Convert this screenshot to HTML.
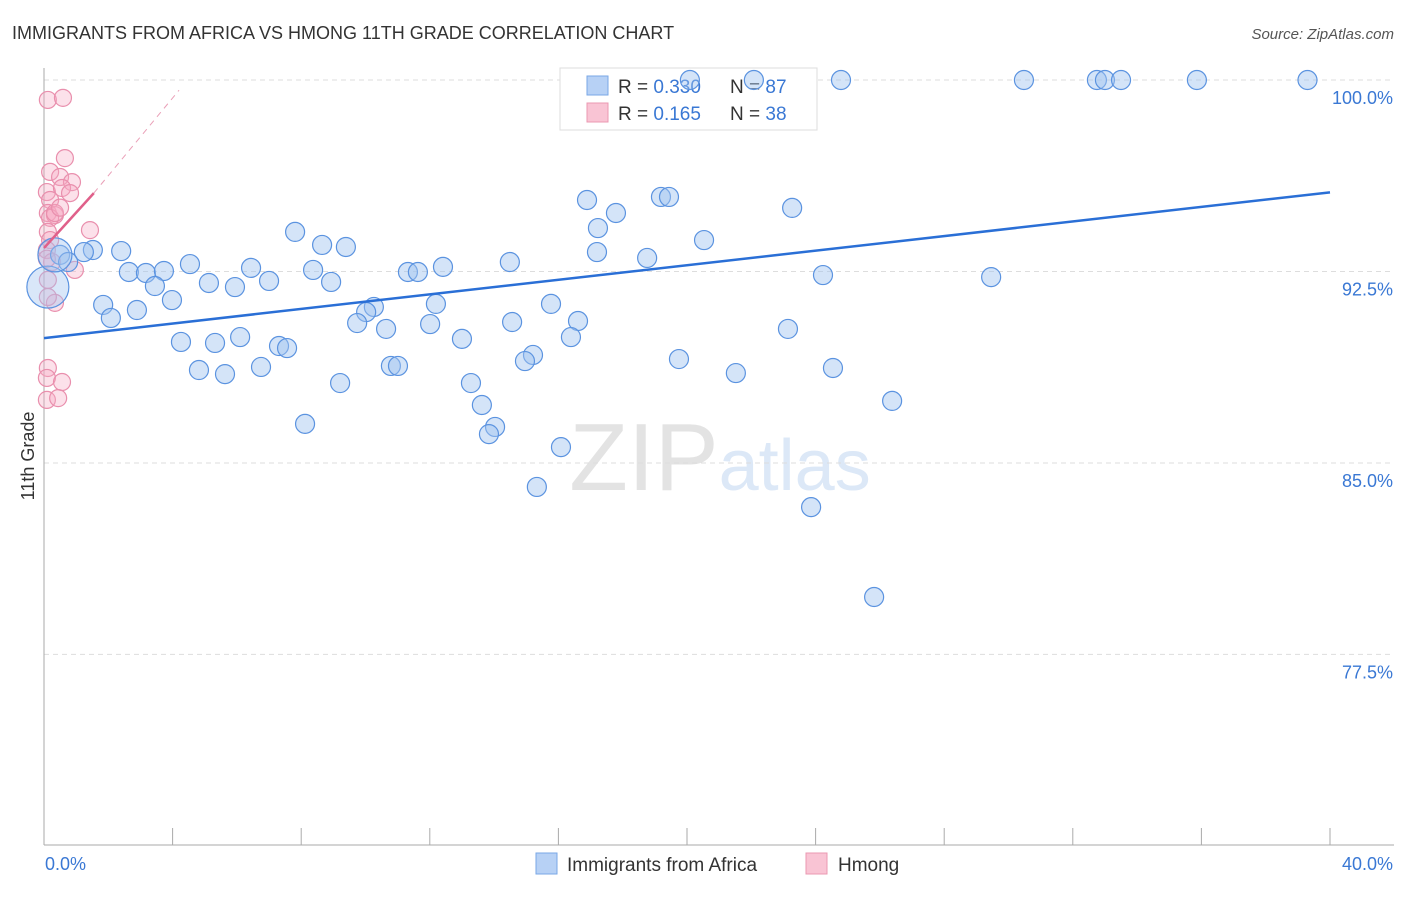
<!DOCTYPE html>
<html><head><meta charset="utf-8"><style>
body{margin:0;background:#fff;font-family:"Liberation Sans",sans-serif}
svg text{font-family:"Liberation Sans",sans-serif}
</style></head><body>
<svg width="1406" height="892" xmlns="http://www.w3.org/2000/svg">
<text x="12" y="39" font-size="18" fill="#333">IMMIGRANTS FROM AFRICA VS HMONG 11TH GRADE CORRELATION CHART</text>
<text x="1394" y="39" font-size="15" fill="#555" text-anchor="end" font-style="italic">Source: ZipAtlas.com</text>
<text x="720" y="490" font-size="96" fill="#e3e3e3" text-anchor="middle" font-family="Liberation Serif">ZIP<tspan fill="#dce8f7" font-family="Liberation Sans" font-size="72">atlas</tspan></text>
<g id="grid"></g><g id="axes"></g>
<g>
<rect x="560" y="68" width="257" height="62" fill="#fff" stroke="#ddd"/>
<rect x="587" y="76" width="21" height="19" fill="#b7d1f5" stroke="#7aa7e6"/>
<rect x="587" y="103" width="21" height="19" fill="#f9c4d4" stroke="#eb98b2"/>
<text x="618" y="93" font-size="19" fill="#333">R = <tspan fill="#3a78d4">0.330</tspan></text>
<text x="730" y="93" font-size="19" fill="#333">N = <tspan fill="#3a78d4">87</tspan></text>
<text x="618" y="120" font-size="19" fill="#333">R = <tspan fill="#3a78d4"> 0.165</tspan></text>
<text x="730" y="120" font-size="19" fill="#333">N = <tspan fill="#3a78d4">38</tspan></text>
</g>
<g id="pts"></g><g id="trend"></g>
<text transform="translate(34,456) rotate(-90)" font-size="18" fill="#333" text-anchor="middle">11th Grade</text>
<g>
<rect x="536" y="853" width="21" height="21" fill="#b7d1f5" stroke="#7aa7e6"/>
<text x="567" y="871" font-size="19" fill="#333">Immigrants from Africa</text>
<rect x="806" y="853" width="21" height="21" fill="#f9c4d4" stroke="#eb98b2"/>
<text x="838" y="871" font-size="19" fill="#333">Hmong</text>
</g>
</svg>
<script>
const yTicks=[100,92.5,85,77.5];
const yTickLabels=["100.0%","92.5%","85.0%","77.5%"];
const xTicks=[0,4,8,12,16,20,24,28,32,36,40];
const blueX=[20.09,22.08,24.79,30.48,32.75,33.0,33.5,35.86,39.3,16.89,19.19,19.44,17.79,23.27,17.23,7.81,20.53,8.65,9.39,2.4,1.52,1.24,0.5,0.75,17.2,18.76,14.49,4.54,6.44,12.41,2.64,3.17,3.73,11.32,11.63,8.37,24.23,29.46,5.13,7.0,8.93,3.45,5.94,3.98,1.84,12.19,15.77,10.26,10.02,2.89,2.08,9.74,14.56,16.61,10.64,12.01,23.14,6.1,4.26,5.32,13.0,16.39,7.31,7.56,15.21,14.96,19.75,10.79,11.01,4.82,5.63,6.75,21.52,24.54,9.21,13.28,13.62,26.38,8.12,14.03,13.84,16.08,15.33,23.86,25.82];
const blueY=[100,100,100,100,100,100,100,100,100,95.3,95.42,95.42,94.79,94.99,94.2,94.05,93.73,93.54,93.46,93.3,93.34,93.26,93.15,92.87,93.26,93.03,92.87,92.79,92.64,92.68,92.48,92.44,92.52,92.48,92.48,92.56,92.36,92.28,92.05,92.13,92.09,91.93,91.89,91.38,91.19,91.23,91.23,91.11,90.91,90.99,90.68,90.48,90.52,90.56,90.25,90.44,90.25,89.93,89.74,89.7,89.86,89.93,89.58,89.5,89.23,88.99,89.07,88.8,88.8,88.64,88.48,88.76,88.52,88.72,88.13,88.13,87.27,87.43,86.53,86.41,86.13,85.62,84.06,83.27,79.75];
const bigBlueX=[0.12,0.34];
const bigBlueY=[91.89,93.15];
const pinkX=[0.12,0.59,0.65,0.19,0.5,0.87,0.09,0.56,0.81,0.19,0.12,0.34,0.19,1.43,0.12,0.19,0.09,0.25,0.96,0.12,0.34,0.12,0.12,0.09,0.56,0.09,0.44,0.34,0.5,0.09];
const pinkY=[99.22,99.3,96.94,96.4,96.2,96.0,95.61,95.77,95.57,95.3,94.79,94.71,94.6,94.12,94.05,93.73,93.34,92.87,92.56,92.17,91.27,91.5,88.72,88.33,88.17,87.47,87.54,94.79,95.0,93.0];
const blueTrend=[[0,89.89],[40,95.6]];
const pinkTrend=[[0,93.42],[1.55,95.57]];
const pinkDash=[[1.55,95.57],[4.2,99.6]];
const X=v=>44+v/40*1286, Y=v=>80+(100-v)*25.53;
const NS="http://www.w3.org/2000/svg";
function mk(t,a,p){const e=document.createElementNS(NS,t);for(const k in a)e.setAttribute(k,a[k]);document.getElementById(p).appendChild(e);return e;}
yTicks.forEach((v,i)=>{
 const l=mk('line',{x1:44,x2:1394,y1:Y(v),y2:Y(v),stroke:'#ddd','stroke-dasharray':'5,4'},'grid');
 
 
 const t=mk('text',{x:1393,y:Y(v)+24,'font-size':18,fill:'#3a78d4','text-anchor':'end'},'grid');t.textContent=yTickLabels[i];
 
 
});
let a=mk('line',{x1:44,x2:44,y1:68,y2:845,stroke:'#aaa'},'axes');


a=mk('line',{x1:44,x2:1394,y1:845,y2:845,stroke:'#aaa'},'axes');


xTicks.forEach(v=>{const t=mk('line',{x1:X(v),x2:X(v),y1:828,y2:845,stroke:'#aaa'},'axes');
 
 });
let t=mk('text',{x:45,y:870,'font-size':18,fill:'#3a78d4'},'axes');t.textContent='0.0%';


t=mk('text',{x:1393,y:870,'font-size':18,fill:'#3a78d4','text-anchor':'end'},'axes');t.textContent='40.0%';


pinkX.forEach((v,i)=>{const c=mk('circle',{cx:X(v),cy:Y(pinkY[i]),r:8.5,fill:'rgba(245,170,195,0.35)',stroke:'#e98fad','stroke-width':1.2},'pts');
 
 });
blueX.forEach((v,i)=>{const c=mk('circle',{cx:X(v),cy:Y(blueY[i]),r:9.5,fill:'rgba(160,196,240,0.45)',stroke:'#5b93e0','stroke-width':1.2},'pts');
 
 });
bigBlueX.forEach((v,i)=>{const c=mk('circle',{cx:X(v),cy:Y(bigBlueY[i]),r:i?17:21,fill:'rgba(160,196,240,0.4)',stroke:'#5b93e0','stroke-width':1.2},'pts');
 
 });
let l=mk('line',{x1:X(blueTrend[0][0]),y1:Y(blueTrend[0][1]),x2:X(blueTrend[1][0]),y2:Y(blueTrend[1][1]),stroke:'#2a6fd6','stroke-width':2.5},'trend');


l=mk('line',{x1:X(pinkTrend[0][0]),y1:Y(pinkTrend[0][1]),x2:X(pinkTrend[1][0]),y2:Y(pinkTrend[1][1]),stroke:'#e0608a','stroke-width':2.5},'trend');


l=mk('line',{x1:X(pinkDash[0][0]),y1:Y(pinkDash[0][1]),x2:X(pinkDash[1][0]),y2:Y(pinkDash[1][1]),stroke:'#eaa0b8','stroke-width':1,'stroke-dasharray':'6,5'},'trend');


</script>
</body></html>
